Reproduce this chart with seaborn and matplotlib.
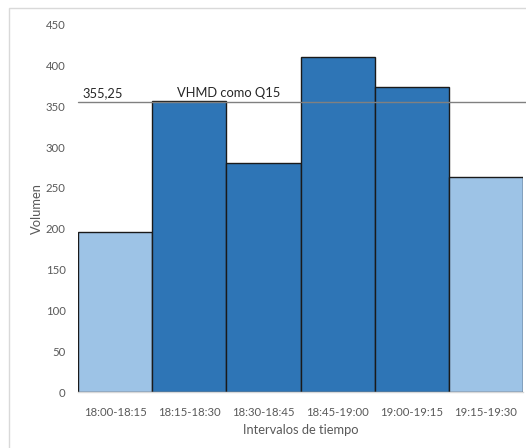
import matplotlib
matplotlib.use("Agg")
import matplotlib.pyplot as plt
import seaborn as sns
import pandas as pd
from matplotlib.patches import Rectangle

# Volumen por intervalo de 15 minutos
intervalos = ["18:00-18:15", "18:15-18:30", "18:30-18:45",
              "18:45-19:00", "19:00-19:15", "19:15-19:30"]
volumen = [196, 356, 281, 410, 374, 263]
en_hora_pico = [False, True, True, True, True, False]

q15 = 355.25
q15_etiqueta = "355,25"
linea_etiqueta = "VHMD como Q15"

color_pico = "#2E75B6"
color_resto = "#9DC3E6"
gris_texto = "#595959"

df = pd.DataFrame({"intervalo": intervalos, "volumen": volumen})
paleta = {i: (color_pico if p else color_resto) for i, p in zip(intervalos, en_hora_pico)}

sns.set_theme(style="white")
plt.rcParams["font.family"] = ["Lato", "DejaVu Sans"]

fig = plt.figure(figsize=(5.26, 4.48), dpi=100)
ax = fig.add_axes([0.1483, 0.125, 0.846, 0.820])

sns.barplot(data=df, x="intervalo", y="volumen", hue="intervalo",
            palette=paleta, legend=False, width=1.0,
            edgecolor="#1a1a1a", linewidth=1.0, saturation=1, ax=ax)

n = len(intervalos)
ax.set_ylim(0, 450)
ax.set_xlim(-0.5, n - 0.5)
ax.set_yticks(range(0, 451, 50))

# Línea de referencia del VHMD
ax.plot([-0.5, n - 0.46], [q15, q15], color="#808080", linewidth=1.0,
        clip_on=False, zorder=5)
ax.text(-0.44, q15 + 4, q15_etiqueta, fontsize=9.3, color="#262626",
        ha="left", va="bottom")
ax.text(1.53, q15 + 4, linea_etiqueta, fontsize=9.3, color="#262626",
        ha="center", va="bottom")

for s in ["top", "right", "left"]:
    ax.spines[s].set_visible(False)
ax.spines["bottom"].set_color("#d9d9d9")
ax.spines["bottom"].set_linewidth(1.0)

ax.tick_params(axis="x", length=0, pad=11, labelsize=8.2, labelcolor=gris_texto)
ax.tick_params(axis="y", length=0, pad=9, labelsize=8.2, labelcolor=gris_texto)

ax.set_xlabel("Intervalos de tiempo", fontsize=9.3, color=gris_texto, labelpad=4)
ax.set_ylabel("Volumen", fontsize=9.3, color=gris_texto, labelpad=2)

# Marco del área del gráfico
fig.patches.append(Rectangle((9 / 526, -0.05), 1.2, 1 - 8 / 448 + 0.05,
                             transform=fig.transFigure, fill=False,
                             edgecolor="#d9d9d9", linewidth=1.0))

fig.savefig("out.png", dpi=100)
